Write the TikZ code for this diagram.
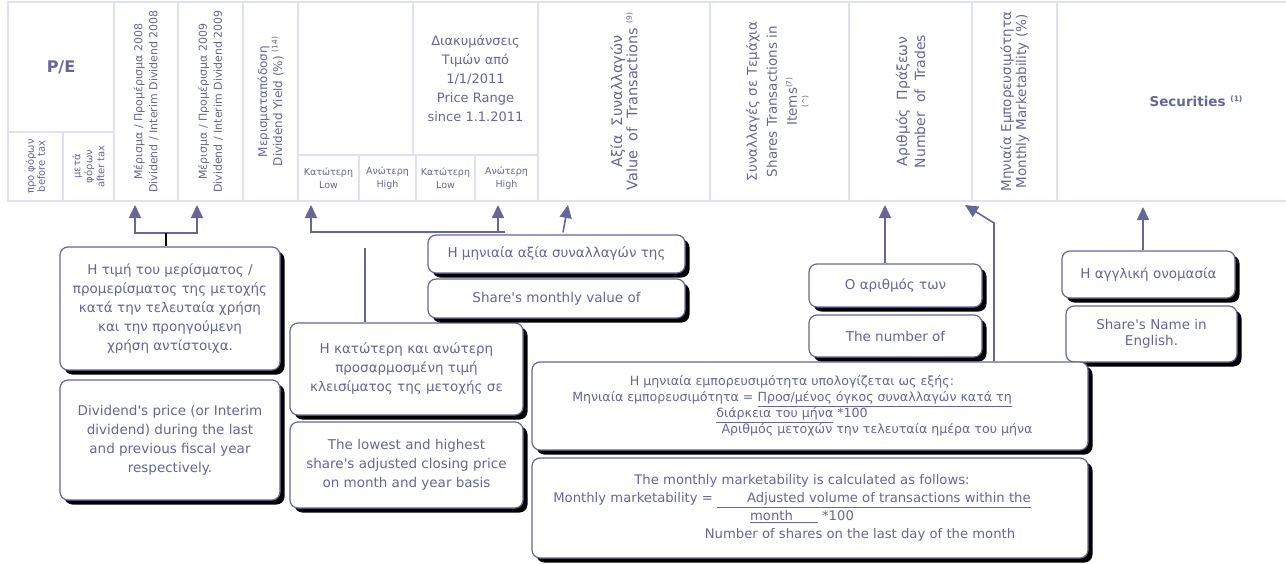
\documentclass[tikz,border=0pt]{standalone}
\usepackage{fontspec}
\setmainfont{DejaVu Sans}
\usetikzlibrary{arrows.meta,shadows}
\definecolor{gridCol}{RGB}{224,224,248}
\definecolor{txtCol}{RGB}{102,102,153}
\definecolor{lineCol}{RGB}{102,102,153}
\newcommand{\sups}[1]{\raisebox{0.7ex}{\fontsize{7.5}{8}\selectfont #1}}
\newcommand{\apos}{\textquotesingle}

\begin{document}
\begin{tikzpicture}
[x=1pt,y=-1pt,
  cellDecorate/.style={draw=gridCol,line width=1.2pt,inner sep=0pt,align=center,text=txtCol},%
  boxDecorate/.style={draw=lineCol,line width=1.2pt,rounded corners=8pt,fill=white,
    inner sep=0pt,align=center,text=txtCol,
    drop shadow={opacity=1,fill=black,shadow xshift=4.5pt,shadow yshift=-4.5pt}},%
  arrowDecorate/.style={-{Triangle[width=12pt,length=13pt]},line width=1.6pt,draw=lineCol},%
  lineDecorate/.style={line width=1.6pt,draw=lineCol}]
\useasboundingbox (0,0) rectangle (1286,563);
%% header cells, upright text
\foreach \cellname/\xa/\xb/\ya/\yb/\fs/\ls/\txt in {
  peTop/8/114/2/132/16/18/{\bfseries P/E},
  rngBlank/298/413/2/155/13/19/{},
  rngTitle/413/538/2/155/13/19/{Διακυμάνσεις\\Τιμών από\\1/1/2011\\Price Range\\since 1.1.2011},
  lowA/298/359/155/201/9.5/13/{Κατώτερη\\Low},
  highA/359/416/155/201/9.5/13/{Ανώτερη\\High},
  lowB/416/475/155/201/9.5/13/{Κατώτερη\\Low},
  highB/475/538/155/201/9.5/13/{Ανώτερη\\High},
  secur/1057/1335/2/201/13.5/16/{\bfseries Securities \sups{(1)}}}
{
  \node (\cellname) at ({(\xa+\xb)/2},{(\ya+\yb)/2})
    [cellDecorate,minimum width={\xb-\xa},minimum height={\yb-\ya},
     font=\fontsize{\fs}{\ls}\selectfont] {\txt};
}
%% header cells, text turned up
\foreach \cellname/\xa/\xb/\ya/\yb/\fs/\ls/\txt in {
  peBefore/8/63/132/201/10/11/{προ φόρων\\before tax},
  peAfter/63/114/132/201/10/12/{μετά\\φόρων\\after tax},
  divA/114/178/2/201/11/15/{Μέρισμα / Προμέρισμα 2008\\Dividend / Interim Dividend 2008},
  divB/178/243/2/201/11/15/{Μέρισμα / Προμέρισμα 2009\\Dividend / Interim Dividend 2009},
  yield/243/298/2/201/12/15/{Μερισματαπόδοση\\Dividend Yield (\%) \sups{(14)}},
  value/538/710/2/201/14.5/14/{Αξία\ \ Συναλλαγών\\Value\ \ of\ \ Transactions \sups{(9)}},
  items/710/849/2/201/13.5/20/{Συναλλαγές σε Τεμάχια\\Shares Transactions in\\Items\sups{(7)}\\[-4pt]\sups{(\textasciicircum)}},
  trades/849/972/2/201/14/18/{Αριθμός\ \ Πράξεων\\Number\ \ of\ \ Trades},
  market/972/1057/2/201/13.5/15/{Μηνιαία Εμπορευσιμότητα\\Monthly Marketability (\%)}}
{
  \node (\cellname) at ({(\xa+\xb)/2},{(\ya+\yb)/2})
    [cellDecorate,rotate=90,minimum width={\yb-\ya},minimum height={\xb-\xa},
     font=\fontsize{\fs}{\ls}\selectfont] {\txt};
}
%% explanation boxes
\foreach \boxname/\x/\y/\w/\h/\ls/\txt in {
  divGr/170/308.5/220/123/19/{Η τιμή του μερίσματος /\\προμερίσματος της μετοχής\\κατά την τελευταία χρήση\\και την προηγούμενη\\χρήση αντίστοιχα.},
  divEn/170/440/220/120/19/{Dividend\apos s price (or Interim\\dividend) during the last\\and previous fiscal year\\respectively.},
  rngGr/406.5/369/233/92/19/{Η κατώτερη και ανώτερη\\προσαρμοσμένη τιμή\\κλεισίματος της μετοχής σε},
  rngEn/406.5/465/233/86/19/{The lowest and highest\\share\apos s adjusted closing price\\on month and year basis},
  valGr/556.5/254/257/38/19/{Η μηνιαία αξία συναλλαγών της},
  valEn/556.5/298.5/257/39/19/{Share\apos s monthly value of},
  trGr/895.5/285.5/173/43/19/{Ο αριθμός των},
  trEn/895.5/336/173/42/19/{The number of},
  nameGr/1148.5/274.5/173/47/19/{Η αγγλική ονομασία},
  nameEn/1151.5/334/171/56/16/{Share\apos s Name in\\English.}}
{
  \node (\boxname) at (\x,\y) [boxDecorate,minimum width=\w,minimum height=\h,
    font=\fontsize{13.5}{\ls}\selectfont] {\txt};
}
\node (mkGr) at (810,406) [boxDecorate,minimum width=556,minimum height=88,
  font=\fontsize{12.6}{16}\selectfont]
  {Η μηνιαία εμπορευσιμότητα υπολογίζεται ως εξής:\hspace*{36pt}\null\\
   Μηνιαία εμπορευσιμότητα = \underline{Προσ/μένος όγκος συναλλαγών κατά τη}\hspace*{36pt}\null\\
   \underline{διάρκεια του μήνα} *100\hspace*{36pt}\null\\
   \hspace*{134pt}Αριθμός μετοχών την τελευταία ημέρα του μήνα};
\node (mkEn) at (810,508) [boxDecorate,minimum width=556,minimum height=100,
  font=\fontsize{13.2}{18}\selectfont]
  {The monthly marketability is calculated as follows:\hspace*{16pt}\null\\
   Monthly marketability = \underline{\hspace*{30pt}Adjusted volume of transactions within the}\hspace*{36pt}\null\\
   \underline{month\hspace*{25pt}} *100\hspace*{16pt}\null\\
   \hspace*{100pt}Number of shares on the last day of the month};
%% connectors
\coordinate (tipDivA) at (135,205);
\coordinate (tipDivB) at (197,205);
\coordinate (divL) at (135,233);
\coordinate (divR) at (197,233);
\coordinate (divMid) at (166,233);
\draw[lineDecorate,{Triangle[width=12pt,length=13pt]}-{Triangle[width=12pt,length=13pt]}]
  (tipDivA) -- (divL) -- (divR) -- (tipDivB);
\draw[line width=1.6pt,black] (divMid) -- (divMid |- divGr.north);
\coordinate (tipLowA) at (311,205);
\coordinate (tipHighB) at (498,205);
\coordinate (rngL) at (311,232);
\coordinate (rngR) at (505,232);
\coordinate (rngStem) at (365,248);
\draw[arrowDecorate] (rngR) -- (rngL) -- (tipLowA);
\draw[arrowDecorate] (tipHighB |- rngR) -- (tipHighB);
\draw[lineDecorate] (rngStem) -- (rngStem |- rngGr.north);
\coordinate (tipValue) at (568,205);
\draw[arrowDecorate] ([xshift=6.5pt,yshift=2pt]valGr.north) -- (tipValue);
\coordinate (tipTrades) at (885,205);
\draw[arrowDecorate] (tipTrades |- trGr.north) -- (tipTrades);
\coordinate (tipMarket) at (965,205);
\coordinate (mkBend) at (994,223);
\draw[arrowDecorate] (mkBend |- mkGr.north) -- (mkBend) -- (tipMarket);
\coordinate (tipSecur) at (1143,207);
\draw[arrowDecorate] (tipSecur |- nameGr.north) -- (tipSecur);
\end{tikzpicture}
\end{document}
